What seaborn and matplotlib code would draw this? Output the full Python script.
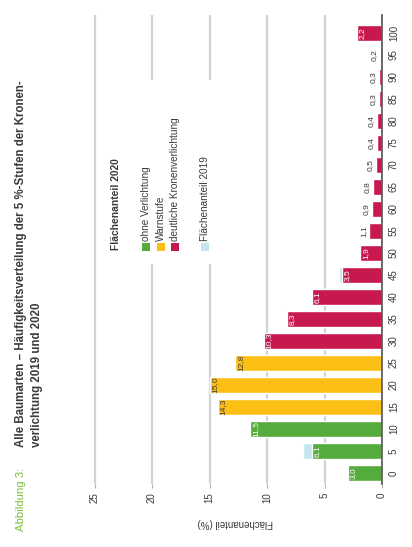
import matplotlib
matplotlib.use("Agg")
import matplotlib.pyplot as plt
import seaborn as sns
import pandas as pd
from matplotlib.patches import Rectangle

# 5 %-Stufen der Kronenverlichtung
stufen = ["0", "5", "10", "15", "20", "25", "30", "35", "40", "45", "50",
          "55", "60", "65", "70", "75", "80", "85", "90", "95", "100"]
# Flächenanteile (%) je Stufe
anteil_2020 = [3.0, 6.1, 11.5, 14.3, 15.0, 12.8, 10.3, 8.3, 6.1, 3.5, 1.9,
               1.1, 0.9, 0.8, 0.5, 0.4, 0.4, 0.3, 0.3, 0.2, 2.2]
anteil_2019 = [2.6, 6.9, 11.2, 14.0, 14.6, 12.5, 10.1, 8.0, 5.9, 3.7, 1.8,
               1.0, 0.8, 0.7, 0.5, 0.4, 0.3, 0.3, 0.3, 0.2, 1.9]
klasse_2020 = (["ohne Verlichtung"] * 3 + ["Warnstufe"] * 3
               + ["deutliche Kronenverlichtung"] * 15)
wert_ticks = [0, 5, 10, 15, 20, 25]

farben = {
    "ohne Verlichtung": "#55ab3b",
    "Warnstufe": "#fcbf16",
    "deutliche Kronenverlichtung": "#c8194f",
}
farbe_2019 = "#c4e7ee"
text_dunkel = "#3a3a3a"

sns.set_theme(style="white")
plt.rcParams["font.family"] = ["Liberation Sans", "DejaVu Sans"]

df = pd.DataFrame({
    "Stufe": stufen,
    "a2020": anteil_2020,
    "a2019": anteil_2019,
    "Klasse": klasse_2020,
})

W, H = 412, 547
fig = plt.figure(figsize=(W / 100, H / 100), dpi=100)
fig.patch.set_facecolor("white")
ax = fig.add_axes([83 / W, 1 - 484 / H, (382 - 83) / W, (484 - 15) / H])

# 2019 hinten, 2020 davor
sns.barplot(data=df, y="Stufe", x="a2019", order=stufen, color=farbe_2019,
            width=0.76, saturation=1, errorbar=None, orient="h", ax=ax)
sns.barplot(data=df, y="Stufe", x="a2020", order=stufen, hue="Klasse",
            palette=farben, dodge=False, width=0.76, saturation=1,
            errorbar=None, orient="h", legend=False, ax=ax)

ax.set_ylim(-0.5, 20.82)
ax.set_xlim(26, 0)
ax.set_xlabel("")
ax.set_ylabel("")

ax.set_xticks(wert_ticks)
ax.set_xticklabels([str(t) for t in wert_ticks], rotation=90,
                   fontsize=7, color=text_dunkel)
ax.tick_params(axis="x", bottom=True, length=3, width=0.8,
               color="#b0b0b0", pad=3)

ax.yaxis.tick_right()
ax.set_yticks(range(len(stufen)))
ax.set_yticklabels(stufen, rotation=90, va="center", fontsize=7,
                   color=text_dunkel)
ax.tick_params(axis="y", length=0, pad=5)

ax.grid(axis="x", color="#d2d2d2", linewidth=1.6)
ax.grid(axis="y", visible=False)
ax.set_axisbelow(True)
for s in ["top", "left", "bottom"]:
    ax.spines[s].set_visible(False)
ax.spines["right"].set_color("#555555")
ax.spines["right"].set_linewidth(1.2)

# Wertebeschriftung an den Balken
for i, (v, k) in enumerate(zip(anteil_2020, klasse_2020)):
    txt = f"{v:.1f}".replace(".", ",")
    if v >= 1.5:
        col = text_dunkel if k == "Warnstufe" else "white"
        ax.text(v - 0.2, i, txt, rotation=90, ha="left", va="center",
                fontsize=6, color=col)
    else:
        ax.text(v + 0.2, i, txt, rotation=90, ha="right", va="center",
                fontsize=6, color=text_dunkel)

# Achsentitel
fig.text(235 / W, 1 - 523 / H, "Flächenanteil (%)", rotation=180,
         ha="center", va="center", fontsize=7, color=text_dunkel)

# Überschrift
fig.text(21 / W, 1 - 531 / H, "Abbildung 3:", rotation=90, ha="center",
         va="bottom", fontsize=8.2, color="#7cbf3f")
fig.text(21 / W, 1 - 447 / H,
         "Alle Baumarten – Häufigkeitsverteilung der 5 %-Stufen der Kronen-",
         rotation=90, ha="center", va="bottom", fontsize=8.3,
         fontweight="bold", color=text_dunkel)
fig.text(37 / W, 1 - 447 / H, "verlichtung 2019 und 2020", rotation=90,
         ha="center", va="bottom", fontsize=8.3, fontweight="bold",
         color=text_dunkel)

# Legende
fig.patches.append(Rectangle((133 / W, 1 - 264 / H), 82 / W, 184 / H,
                             transform=fig.transFigure, facecolor="white",
                             edgecolor="none", zorder=1))
fig.text(116 / W, 1 - 250 / H, "Flächenanteil 2020", rotation=90,
         ha="center", va="bottom", fontsize=7.4, fontweight="bold",
         color=text_dunkel, zorder=3)
eintraege = [
    (146, farben["ohne Verlichtung"], "ohne Verlichtung"),
    (160.5, farben["Warnstufe"], "Warnstufe"),
    (175, farben["deutliche Kronenverlichtung"], "deutliche Kronenverlichtung"),
    (205, farbe_2019, "Flächenanteil 2019"),
]
for x, c, lab in eintraege:
    fig.patches.append(Rectangle(((x - 4) / W, 1 - 251 / H), 8 / W, 8 / H,
                                 transform=fig.transFigure, facecolor=c,
                                 edgecolor="none", zorder=2))
    fig.text(x / W, 1 - 241 / H, lab, rotation=90, ha="center",
             va="bottom", fontsize=7.2, color=text_dunkel, zorder=3)

fig.savefig("out.png", dpi=100)
